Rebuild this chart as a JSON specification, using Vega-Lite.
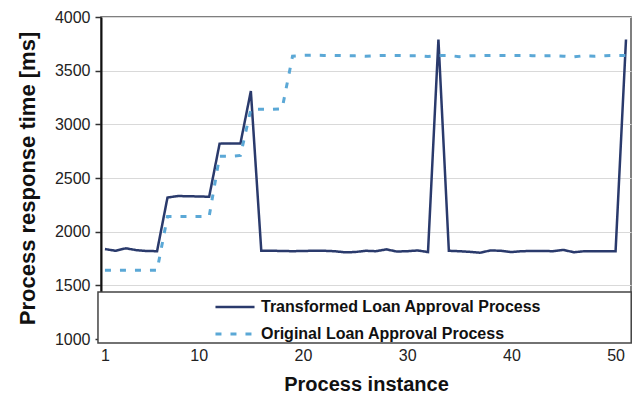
{
  "$schema": "https://vega.github.io/schema/vega-lite/v6.json",
  "width": 530,
  "height": 322,
  "autosize": "none",
  "padding": {"left": 101, "top": 17, "right": 5, "bottom": 61},
  "background": "white",
  "config": {
    "view": {"stroke": "#555", "strokeWidth": 1.5},
    "font": "Liberation Sans"
  },
  "datasets": {
    "series": [
      {"instance": 1, "process": "Transformed Loan Approval Process", "time": 1838},
      {"instance": 2, "process": "Transformed Loan Approval Process", "time": 1822},
      {"instance": 3, "process": "Transformed Loan Approval Process", "time": 1845},
      {"instance": 4, "process": "Transformed Loan Approval Process", "time": 1828},
      {"instance": 5, "process": "Transformed Loan Approval Process", "time": 1820},
      {"instance": 6, "process": "Transformed Loan Approval Process", "time": 1818},
      {"instance": 7, "process": "Transformed Loan Approval Process", "time": 2318},
      {"instance": 8, "process": "Transformed Loan Approval Process", "time": 2332},
      {"instance": 9, "process": "Transformed Loan Approval Process", "time": 2330},
      {"instance": 10, "process": "Transformed Loan Approval Process", "time": 2328},
      {"instance": 11, "process": "Transformed Loan Approval Process", "time": 2325},
      {"instance": 12, "process": "Transformed Loan Approval Process", "time": 2820},
      {"instance": 13, "process": "Transformed Loan Approval Process", "time": 2822},
      {"instance": 14, "process": "Transformed Loan Approval Process", "time": 2822},
      {"instance": 15, "process": "Transformed Loan Approval Process", "time": 3310},
      {"instance": 16, "process": "Transformed Loan Approval Process", "time": 1822},
      {"instance": 17, "process": "Transformed Loan Approval Process", "time": 1822},
      {"instance": 18, "process": "Transformed Loan Approval Process", "time": 1820},
      {"instance": 19, "process": "Transformed Loan Approval Process", "time": 1818},
      {"instance": 20, "process": "Transformed Loan Approval Process", "time": 1820},
      {"instance": 21, "process": "Transformed Loan Approval Process", "time": 1822},
      {"instance": 22, "process": "Transformed Loan Approval Process", "time": 1822},
      {"instance": 23, "process": "Transformed Loan Approval Process", "time": 1818},
      {"instance": 24, "process": "Transformed Loan Approval Process", "time": 1808},
      {"instance": 25, "process": "Transformed Loan Approval Process", "time": 1810},
      {"instance": 26, "process": "Transformed Loan Approval Process", "time": 1822},
      {"instance": 27, "process": "Transformed Loan Approval Process", "time": 1818},
      {"instance": 28, "process": "Transformed Loan Approval Process", "time": 1835},
      {"instance": 29, "process": "Transformed Loan Approval Process", "time": 1815},
      {"instance": 30, "process": "Transformed Loan Approval Process", "time": 1818},
      {"instance": 31, "process": "Transformed Loan Approval Process", "time": 1825},
      {"instance": 32, "process": "Transformed Loan Approval Process", "time": 1810},
      {"instance": 33, "process": "Transformed Loan Approval Process", "time": 3790},
      {"instance": 34, "process": "Transformed Loan Approval Process", "time": 1822},
      {"instance": 35, "process": "Transformed Loan Approval Process", "time": 1818},
      {"instance": 36, "process": "Transformed Loan Approval Process", "time": 1812},
      {"instance": 37, "process": "Transformed Loan Approval Process", "time": 1804},
      {"instance": 38, "process": "Transformed Loan Approval Process", "time": 1825},
      {"instance": 39, "process": "Transformed Loan Approval Process", "time": 1822},
      {"instance": 40, "process": "Transformed Loan Approval Process", "time": 1810},
      {"instance": 41, "process": "Transformed Loan Approval Process", "time": 1818},
      {"instance": 42, "process": "Transformed Loan Approval Process", "time": 1820},
      {"instance": 43, "process": "Transformed Loan Approval Process", "time": 1820},
      {"instance": 44, "process": "Transformed Loan Approval Process", "time": 1818},
      {"instance": 45, "process": "Transformed Loan Approval Process", "time": 1830},
      {"instance": 46, "process": "Transformed Loan Approval Process", "time": 1808},
      {"instance": 47, "process": "Transformed Loan Approval Process", "time": 1818},
      {"instance": 48, "process": "Transformed Loan Approval Process", "time": 1818},
      {"instance": 49, "process": "Transformed Loan Approval Process", "time": 1818},
      {"instance": 50, "process": "Transformed Loan Approval Process", "time": 1818},
      {"instance": 51, "process": "Transformed Loan Approval Process", "time": 3790},
      {"instance": 1, "process": "Original Loan Approval Process", "time": 1640},
      {"instance": 2, "process": "Original Loan Approval Process", "time": 1640},
      {"instance": 3, "process": "Original Loan Approval Process", "time": 1640},
      {"instance": 4, "process": "Original Loan Approval Process", "time": 1640},
      {"instance": 5, "process": "Original Loan Approval Process", "time": 1640},
      {"instance": 6, "process": "Original Loan Approval Process", "time": 1640},
      {"instance": 7, "process": "Original Loan Approval Process", "time": 2142},
      {"instance": 8, "process": "Original Loan Approval Process", "time": 2142},
      {"instance": 9, "process": "Original Loan Approval Process", "time": 2142},
      {"instance": 10, "process": "Original Loan Approval Process", "time": 2142},
      {"instance": 11, "process": "Original Loan Approval Process", "time": 2142},
      {"instance": 12, "process": "Original Loan Approval Process", "time": 2702},
      {"instance": 13, "process": "Original Loan Approval Process", "time": 2702},
      {"instance": 14, "process": "Original Loan Approval Process", "time": 2710},
      {"instance": 15, "process": "Original Loan Approval Process", "time": 3140},
      {"instance": 16, "process": "Original Loan Approval Process", "time": 3140},
      {"instance": 17, "process": "Original Loan Approval Process", "time": 3140},
      {"instance": 18, "process": "Original Loan Approval Process", "time": 3145},
      {"instance": 19, "process": "Original Loan Approval Process", "time": 3635},
      {"instance": 20, "process": "Original Loan Approval Process", "time": 3642},
      {"instance": 21, "process": "Original Loan Approval Process", "time": 3645},
      {"instance": 22, "process": "Original Loan Approval Process", "time": 3642},
      {"instance": 23, "process": "Original Loan Approval Process", "time": 3642},
      {"instance": 24, "process": "Original Loan Approval Process", "time": 3640},
      {"instance": 25, "process": "Original Loan Approval Process", "time": 3638},
      {"instance": 26, "process": "Original Loan Approval Process", "time": 3634},
      {"instance": 27, "process": "Original Loan Approval Process", "time": 3640},
      {"instance": 28, "process": "Original Loan Approval Process", "time": 3642},
      {"instance": 29, "process": "Original Loan Approval Process", "time": 3642},
      {"instance": 30, "process": "Original Loan Approval Process", "time": 3640},
      {"instance": 31, "process": "Original Loan Approval Process", "time": 3640},
      {"instance": 32, "process": "Original Loan Approval Process", "time": 3632},
      {"instance": 33, "process": "Original Loan Approval Process", "time": 3642},
      {"instance": 34, "process": "Original Loan Approval Process", "time": 3642},
      {"instance": 35, "process": "Original Loan Approval Process", "time": 3630},
      {"instance": 36, "process": "Original Loan Approval Process", "time": 3638},
      {"instance": 37, "process": "Original Loan Approval Process", "time": 3640},
      {"instance": 38, "process": "Original Loan Approval Process", "time": 3642},
      {"instance": 39, "process": "Original Loan Approval Process", "time": 3642},
      {"instance": 40, "process": "Original Loan Approval Process", "time": 3642},
      {"instance": 41, "process": "Original Loan Approval Process", "time": 3642},
      {"instance": 42, "process": "Original Loan Approval Process", "time": 3640},
      {"instance": 43, "process": "Original Loan Approval Process", "time": 3638},
      {"instance": 44, "process": "Original Loan Approval Process", "time": 3640},
      {"instance": 45, "process": "Original Loan Approval Process", "time": 3635},
      {"instance": 46, "process": "Original Loan Approval Process", "time": 3628},
      {"instance": 47, "process": "Original Loan Approval Process", "time": 3640},
      {"instance": 48, "process": "Original Loan Approval Process", "time": 3635},
      {"instance": 49, "process": "Original Loan Approval Process", "time": 3640},
      {"instance": 50, "process": "Original Loan Approval Process", "time": 3642},
      {"instance": 51, "process": "Original Loan Approval Process", "time": 3642}
    ],
    "box": [{"item": "legend frame"}]
  },
  "layer": [
    {
      "data": {"name": "series"},
      "mark": {"type": "line", "strokeJoin": "miter"},
      "encoding": {
        "x": {
          "field": "instance",
          "type": "quantitative",
          "scale": {"domain": [0.62, 51.48], "nice": false, "zero": false},
          "axis": {
            "values": [1, 10, 20, 30, 40, 50],
            "domain": false,
            "ticks": false,
            "grid": false,
            "labelFontSize": 16,
            "labelColor": "#222",
            "labelPadding": 8,
            "labelFlush": false,
            "title": "Process instance",
            "titleFontSize": 20,
            "titleFontWeight": "bold",
            "titleColor": "#111",
            "titlePadding": 11
          }
        },
        "y": {
          "field": "time",
          "type": "quantitative",
          "scale": {"domain": [1000, 4000], "nice": false, "zero": false},
          "axis": {
            "values": [1000, 1500, 2000, 2500, 3000, 3500, 4000],
            "format": "d",
            "grid": true,
            "gridColor": "#d9d9d9",
            "gridWidth": 1.2,
            "domainColor": "#111",
            "domainWidth": 2,
            "tickColor": "#333",
            "tickSize": 6,
            "tickWidth": 1.5,
            "labelFontSize": 16,
            "labelColor": "#222",
            "labelPadding": 5,
            "title": "Process response time [ms]",
            "titleFontSize": 22,
            "titleFontWeight": "bold",
            "titleColor": "#111",
            "titlePadding": 15
          }
        },
        "color": {
          "field": "process",
          "type": "nominal",
          "scale": {
            "domain": ["Transformed Loan Approval Process", "Original Loan Approval Process"],
            "range": ["#2a3a6c", "#5ba8d6"]
          },
          "legend": {
            "orient": "none",
            "legendX": 126,
            "legendY": 282,
            "title": null,
            "symbolType": "M-5,0H5",
            "symbolSize": 61,
            "symbolStrokeWidth": 3,
            "labelFontSize": 16,
            "labelFontWeight": "bold",
            "labelColor": "#111",
            "labelLimit": 500,
            "labelOffset": 18,
            "rowPadding": 11,
            "padding": 0
          }
        },
        "strokeDash": {
          "field": "process",
          "type": "nominal",
          "scale": {
            "domain": ["Transformed Loan Approval Process", "Original Loan Approval Process"],
            "range": [[1, 0], [6, 9]]
          },
          "legend": {
            "orient": "none",
            "legendX": 126,
            "legendY": 282,
            "title": null,
            "symbolType": "M-5,0H5",
            "symbolSize": 61,
            "symbolStrokeWidth": 3,
            "labelFontSize": 16,
            "labelFontWeight": "bold",
            "labelColor": "#111",
            "labelLimit": 500,
            "labelOffset": 18,
            "rowPadding": 11,
            "padding": 0
          }
        },
        "strokeWidth": {
          "field": "process",
          "type": "nominal",
          "scale": {
            "domain": ["Transformed Loan Approval Process", "Original Loan Approval Process"],
            "range": [2.5, 3]
          },
          "legend": null
        }
      }
    },
    {
      "data": {"name": "box"},
      "mark": {"type": "rect", "fill": "#000", "xOffset": 3, "yOffset": 3},
      "encoding": {
        "x": {"datum": 0.33, "type": "quantitative"},
        "x2": {"datum": 51.5},
        "y": {"datum": 1438, "type": "quantitative"},
        "y2": {"datum": 963}
      }
    },
    {
      "data": {"name": "box"},
      "mark": {"type": "rect", "fill": "#fff", "stroke": "#444", "strokeWidth": 1.5},
      "encoding": {
        "x": {"datum": 0.33, "type": "quantitative"},
        "x2": {"datum": 51.5},
        "y": {"datum": 1438, "type": "quantitative"},
        "y2": {"datum": 963}
      }
    }
  ]
}
